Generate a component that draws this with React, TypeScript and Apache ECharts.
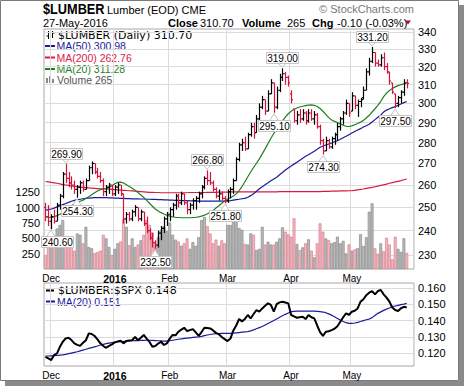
import React, { useEffect, useRef } from 'react';
import * as echarts from 'echarts';

// ---------- DATA ----------
const monthDays: [string, number[]][] = [
  ['2015-11', [27, 30]],
  ['2015-12', [1, 2, 3, 4, 7, 8, 9, 10, 11, 14, 15, 16, 17, 18, 21, 22, 23, 24, 28, 29, 30, 31]],
  ['2016-01', [4, 5, 6, 7, 8, 11, 12, 13, 14, 15, 19, 20, 21, 22, 25, 26, 27, 28, 29]],
  ['2016-02', [1, 2, 3, 4, 5, 8, 9, 10, 11, 12, 16, 17, 18, 19, 22, 23, 24, 25, 26, 29]],
  ['2016-03', [1, 2, 3, 4, 7, 8, 9, 10, 11, 14, 15, 16, 17, 18, 21, 22, 23, 24, 28, 29, 30, 31]],
  ['2016-04', [1, 4, 5, 6, 7, 8, 11, 12, 13, 14, 15, 18, 19, 20, 21, 22, 25, 26, 27, 28, 29]],
  ['2016-05', [2, 3, 4, 5, 6, 9, 10, 11, 12, 13, 16, 17, 18, 19, 20, 23, 24, 25, 26, 27]],
];
const monthLabels: Record<string, string> = {
  '2015-12': 'Dec', '2016-01': '2016', '2016-02': 'Feb', '2016-03': 'Mar', '2016-04': 'Apr', '2016-05': 'May',
};

const opens = [
  250, 246, 244, 246, 244, 251, 255, 265, 263, 261,
  260, 258, 259, 261, 258, 262, 268, 270, 266, 264,
  262, 257, 259, 260, 256, 259, 260, 256, 245, 247,
  245, 248, 250, 245, 248, 243, 240, 237, 235, 234,
  239, 241, 245, 247, 249, 251, 255, 252, 256, 252,
  249, 251, 253, 254, 256, 259, 263, 262, 261, 258,
  255, 256, 254, 253, 257, 258, 262, 272, 279, 280,
  277, 284, 288, 285, 292, 298, 302, 296, 305, 311,
  298, 307, 314, 316, 314, 305, 297, 291, 294, 292,
  295, 291, 295, 292, 294, 288, 281, 276, 281, 278,
  282, 284, 288, 292, 295, 300, 296, 304, 299, 301,
  303, 307, 317, 323, 328, 322, 321, 325, 320, 317,
  311, 305, 300, 303, 306, 311,
];
const highs = [
  252, 251, 247, 249, 252, 256, 266, 269.9, 266, 264,
  262, 260, 262, 262, 263, 269, 271, 270, 268, 266,
  263, 260, 261, 260, 260, 261, 260, 256, 248, 248,
  249, 251, 250, 249, 248, 246, 241, 239, 236, 240,
  242, 246, 248, 250, 252, 256, 256, 257, 256, 253,
  252, 254, 255, 257, 260, 264, 266.8, 266, 262, 259,
  258, 257, 255, 258, 259, 263, 273, 280, 282, 283,
  285, 290, 290, 294, 300, 304, 302, 307, 313, 311,
  309, 316, 319, 317, 315, 307, 297, 296, 297, 297,
  296, 297, 297, 296, 295, 289, 282, 283, 282, 283,
  285, 290, 293, 296, 302, 300, 306, 304, 302, 303,
  309, 319, 325, 331.2, 328, 324, 327, 328, 322, 317,
  311, 305, 304, 307, 313, 313,
];
const lows = [
  244, 242, 240.6, 243, 244, 249, 254, 261, 259, 258,
  256, 254.3, 256, 257, 258, 262, 265, 265, 263, 261,
  255, 255, 256, 255, 255, 256, 255, 243, 243, 244,
  244, 246, 244, 244, 242, 239, 236, 233, 232.5, 233,
  236, 239, 242, 244, 246, 249, 250, 251, 251, 247,
  247, 249, 249, 252, 254, 258, 260, 260, 257, 254,
  253, 253, 251.8, 252, 254, 256, 262, 271, 276, 276,
  277, 283, 282, 285, 291, 297, 294, 296, 305, 295.1,
  297, 306, 312, 310, 309, 300, 290, 289, 290, 291,
  289, 290, 291, 289, 287, 279, 274.3, 276, 277, 277,
  279, 281, 286, 289, 294, 293, 296, 297, 293, 298,
  302, 307, 315, 322, 320, 320, 320, 318, 316, 310,
  305, 297.5, 298, 300, 304, 308,
];
const closes = [
  246, 244, 246, 244, 251, 255, 265, 263, 261, 260,
  258, 259, 261, 258, 262, 268, 270, 266, 264, 262,
  257, 259, 260, 256, 259, 260, 256, 245, 247, 245,
  248, 250, 245, 248, 243, 240, 237, 235, 234, 239,
  241, 245, 247, 249, 251, 255, 252, 256, 252, 249,
  251, 253, 254, 256, 259, 263, 262, 261, 258, 255,
  256, 254, 253, 257, 258, 262, 272, 279, 280, 277,
  284, 288, 285, 292, 298, 302, 296, 305, 311, 298,
  307, 314, 316, 314, 311, 302, 291, 294, 292, 295,
  291, 295, 292, 294, 288, 281, 276, 281, 278, 282,
  284, 288, 292, 295, 300, 295, 304, 299, 301, 302,
  307, 317, 323, 328, 322, 321, 325, 320, 317, 312,
  306, 300, 303, 306, 310.8, 310.7,
];
const volumes = [
  230, 500, 580, 420, 660, 720, 800, 420, 390, 360,
  300, 580, 560, 420, 690, 360, 340, 260, 280, 300,
  560, 500, 360, 230, 330, 420, 450, 820, 690, 390,
  500, 360, 400, 470, 560, 800, 720, 600, 420, 520,
  640, 700, 620, 760, 560, 480, 450, 380, 420, 500,
  330, 440, 380, 520, 800, 850, 700, 580, 420, 480,
  380, 470, 420, 720, 720, 915, 800, 670, 640, 409,
  400, 583, 560, 310, 330, 691, 400, 446, 400, 400,
  446, 500, 681, 610, 567, 528, 828, 409, 310, 354,
  420, 485, 300, 191, 420, 746, 610, 500, 474, 420,
  440, 528, 420, 460, 256, 403, 300, 321, 340, 567,
  376, 518, 936, 1073, 338, 250, 420, 290, 512, 400,
  158, 528, 330, 280, 502, 265,
];
const ma20 = [
  246.0, 245.8, 245.7, 245.9, 246.4, 247.0, 247.7, 248.6, 249.6, 250.7,
  251.6, 252.2, 252.7, 253.2, 253.9, 254.7, 255.6, 256.5, 257.3, 257.9,
  258.2, 258.4, 258.9, 259.7, 260.6, 261.2, 261.3, 260.9, 260.1, 259.3,
  258.5, 257.6, 256.6, 255.5, 254.4, 253.1, 251.8, 250.5, 249.3, 248.4,
  247.7, 247.1, 246.6, 246.2, 245.9, 245.7, 245.6, 245.5, 245.5, 245.5,
  245.5, 245.6, 245.7, 245.9, 246.2, 246.6, 247.2, 247.9, 248.7, 249.7,
  250.7, 251.8, 252.8, 253.6, 254.3, 255.0, 256.0, 257.5, 259.3, 261.5,
  263.8, 266.0, 268.1, 270.1, 272.2, 274.6, 277.0, 279.6, 282.2, 284.6,
  286.8, 289.0, 291.0, 292.9, 294.6, 295.9, 296.9, 297.6, 298.1, 298.5,
  298.8, 299.1, 299.2, 299.0, 298.4, 297.3, 295.9, 294.3, 292.6, 291.4,
  290.7, 290.1, 289.4, 288.7, 288.2, 288.1, 288.4, 289.0, 289.6, 290.3,
  291.2, 292.4, 293.8, 295.5, 297.2, 299.0, 301.1, 303.6, 305.4, 306.9,
  308.0, 308.8, 309.5, 310.0, 310.6, 311.28,
];
const ma50 = [
  248.8, 249.0, 249.3, 249.7, 250.2, 250.7, 251.2, 251.7, 252.2, 252.7,
  253.1, 253.4, 253.6, 253.8, 254.0, 254.1, 254.2, 254.3, 254.3, 254.3,
  254.3, 254.3, 254.2, 254.2, 254.1, 254.1, 254.0, 254.0, 253.9, 253.9,
  253.8, 253.8, 253.8, 253.7, 253.7, 253.6, 253.6, 253.5, 253.5, 253.4,
  253.4, 253.3, 253.3, 253.2, 253.2, 253.1, 253.1, 253.0, 253.0, 253.0,
  252.9, 252.9, 252.9, 252.8, 252.8, 252.8, 252.8, 252.8, 252.8, 252.8,
  252.8, 252.8, 252.8, 252.9, 253.0, 253.2, 253.4, 253.6, 253.8, 254.0,
  254.5, 255.2, 256.0, 257.2, 258.3, 259.2, 260.1, 261.0, 261.9, 262.8,
  263.6, 264.7, 265.8, 266.9, 267.9, 268.8, 269.7, 270.6, 271.5, 272.5,
  273.4, 274.2, 275.0, 275.9, 276.8, 277.8, 278.4, 278.9, 279.4, 279.9,
  280.5, 281.0, 281.7, 282.5, 283.2, 284.0, 284.8, 285.6, 286.3, 287.0,
  287.8, 288.5, 289.2, 290.4, 291.6, 292.8, 294.0, 295.5, 296.5, 297.2,
  297.8, 298.3, 299.0, 299.7, 300.4, 300.98,
];
const ma200 = [
  261.6, 261.4, 261.2, 261.0, 260.8, 260.5, 260.2, 260.0, 259.8, 259.6,
  259.4, 259.2, 259.0, 258.9, 258.8, 258.7, 258.6, 258.5, 258.4, 258.3,
  258.3, 258.2, 258.1, 258.0, 257.9, 257.8, 257.7, 257.6, 257.5, 257.4,
  257.3, 257.2, 257.1, 257.0, 256.9, 256.8, 256.7, 256.7, 256.6, 256.6,
  256.5, 256.5, 256.5, 256.5, 256.5, 256.5, 256.5, 256.5, 256.5, 256.5,
  256.6, 256.6, 256.6, 256.6, 256.6, 256.6, 256.7, 256.7, 256.7, 256.7,
  256.8, 256.8, 256.8, 256.8, 256.9, 256.9, 256.9, 256.9, 256.9, 256.9,
  256.9, 256.9, 256.9, 256.9, 256.9, 256.9, 256.9, 256.9, 256.9, 256.9,
  256.9, 257.0, 257.0, 257.0, 257.0, 257.0, 257.0, 257.0, 257.0, 257.0,
  257.0, 257.0, 257.0, 257.0, 257.0, 257.0, 257.1, 257.1, 257.1, 257.2,
  257.2, 257.2, 257.3, 257.3, 257.3, 257.4, 257.4, 257.6, 257.8, 258.0,
  258.2, 258.5, 258.7, 258.9, 259.2, 259.5, 259.8, 260.1, 260.4, 260.8,
  261.1, 261.4, 261.7, 262.0, 262.4, 262.76,
];
const ratio = [
  0.1179, 0.1169, 0.1159, 0.1190, 0.1200, 0.1240, 0.1271, 0.1291, 0.1295, 0.1281,
  0.1261, 0.1252, 0.1246, 0.1265, 0.1280, 0.1322, 0.1318, 0.1306, 0.1285, 0.1261,
  0.1245, 0.1234, 0.1246, 0.1255, 0.1267, 0.1272, 0.1277, 0.1261, 0.1275, 0.1278,
  0.1280, 0.1301, 0.1280, 0.1295, 0.1312, 0.1290, 0.1270, 0.1240, 0.1245, 0.1260,
  0.1271, 0.1251, 0.1261, 0.1290, 0.1312, 0.1310, 0.1332, 0.1345, 0.1356, 0.1336,
  0.1342, 0.1348, 0.1328, 0.1307, 0.1330, 0.1356, 0.1354, 0.1352, 0.1340, 0.1325,
  0.1316, 0.1300, 0.1287, 0.1275, 0.1290, 0.1340, 0.1370, 0.1410, 0.1395, 0.1410,
  0.1434, 0.1413, 0.1440, 0.1464, 0.1454, 0.1474, 0.1490, 0.1505, 0.1495, 0.1454,
  0.1500, 0.1511, 0.1515, 0.1510, 0.1505, 0.1434, 0.1425, 0.1417, 0.1420, 0.1423,
  0.1409, 0.1434, 0.1420, 0.1413, 0.1370, 0.1330, 0.1307, 0.1332, 0.1335, 0.1342,
  0.1350, 0.1365, 0.1393, 0.1420, 0.1444, 0.1434, 0.1454, 0.1460, 0.1474, 0.1515,
  0.1530, 0.1555, 0.1570, 0.1580, 0.1560, 0.1580, 0.1586, 0.1560, 0.1540, 0.1515,
  0.1480, 0.1464, 0.1458, 0.1475, 0.1484, 0.1480,
];
const ratioMa20 = [
  0.1184, 0.1184, 0.1185, 0.1186, 0.1187, 0.1189, 0.1191, 0.1194, 0.1198, 0.1202,
  0.1206, 0.1210, 0.1215, 0.1220, 0.1225, 0.1230, 0.1235, 0.1240, 0.1245, 0.1251,
  0.1255, 0.1259, 0.1262, 0.1265, 0.1268, 0.1271, 0.1272, 0.1273, 0.1275, 0.1276,
  0.1277, 0.1278, 0.1278, 0.1279, 0.1279, 0.1280, 0.1280, 0.1279, 0.1278, 0.1277,
  0.1276, 0.1275, 0.1275, 0.1277, 0.1280, 0.1283, 0.1286, 0.1288, 0.1291, 0.1293,
  0.1295, 0.1297, 0.1299, 0.1301, 0.1304, 0.1308, 0.1312, 0.1315, 0.1318, 0.1320,
  0.1321, 0.1322, 0.1322, 0.1322, 0.1322, 0.1323, 0.1325, 0.1327, 0.1329, 0.1331,
  0.1333, 0.1337, 0.1343, 0.1350, 0.1357, 0.1364, 0.1373, 0.1382, 0.1391, 0.1400,
  0.1410, 0.1420, 0.1429, 0.1438, 0.1446, 0.1454, 0.1456, 0.1457, 0.1458, 0.1458,
  0.1458, 0.1458, 0.1458, 0.1457, 0.1456, 0.1455, 0.1452, 0.1448, 0.1441, 0.1433,
  0.1423, 0.1413, 0.1403, 0.1394, 0.1387, 0.1383, 0.1383, 0.1385, 0.1389, 0.1394,
  0.1400, 0.1405, 0.1409, 0.1418, 0.1431, 0.1444, 0.1453, 0.1462, 0.1470, 0.1477,
  0.1484, 0.1489, 0.1493, 0.1497, 0.1500, 0.1505,
];
// callouts: [bar index, price, 1 = high / 0 = low]
const callouts: [number, number, number][] = [
  [2, 240.6, 0], [7, 269.9, 1], [11, 254.3, 0], [38, 232.5, 0], [56, 266.8, 1], [62, 251.8, 0],
  [79, 295.1, 0], [82, 319.0, 1], [96, 274.3, 0], [113, 331.2, 1], [121, 297.5, 0],
];
const priceTicks = [230, 240, 250, 260, 270, 280, 290, 300, 310, 320, 330, 340];
const volumeTicks = [250, 500, 750, 1000, 1250];
const ratioTicks = [0.12, 0.13, 0.14, 0.15, 0.16];

// ---------- BUILD ----------
const dates: string[] = [];
monthDays.forEach(([m, ds]) => ds.forEach((d) => dates.push(`${m}-${String(d).padStart(2, '0')}`)));
const cats = [...dates, ' ', '  '];
const labelAt: Record<number, string> = {};
{
  let prev = '';
  dates.forEach((d, i) => {
    const m = d.slice(0, 7);
    if (m !== prev) {
      if (monthLabels[m]) labelAt[i] = monthLabels[m];
      prev = m;
    }
  });
}
const LN = Math.log;
const upFlags = closes.map((c, i) => (i > 0 && c > closes[i - 1] ? 1 : 0));

const UP = '#000000';
const DOWN = '#d8103c';
const NAVY = '#1b1b9a';
const RED = '#d81b45';
const GREEN = '#1f7f1f';
const GRID = '#dcdcdc';
const SANS = '"Liberation Sans", Arial, sans-serif';
const VERD = '"DejaVu Sans", Verdana, sans-serif';

function xAxisCfg(gridIndex: number) {
  return {
    type: 'category', gridIndex, data: cats, boundaryGap: true,
    axisLine: { show: false }, axisTick: { show: false },
    axisLabel: {
      interval: (i: number) => labelAt[i] !== undefined,
      formatter: (_v: string, i: number) => (labelAt[i] === '2016' ? '{b|2016}' : labelAt[i] || ''),
      fontSize: 10, fontFamily: SANS, color: '#000', margin: 4,
      rich: { b: { fontWeight: 'bold', fontSize: 10.5, fontFamily: SANS, color: '#000' } },
    },
    splitLine: { show: true, interval: (i: number) => labelAt[i] !== undefined, lineStyle: { color: GRID, width: 1 } },
  };
}

function buildOption() {
  const ohlcData = dates.map((_, i) => [i, LN(opens[i]), LN(highs[i]), LN(lows[i]), LN(closes[i]), upFlags[i]]);
  const legendY = [35, 46, 57.5, 69, 80];
  const txt = (x: number, y: number, text: string, font: string, fill: string, extra: any = {}) => ({
    type: 'text', x, y, style: { text, font, fill, verticalAlign: 'middle', ...extra },
  });
  const graphics: any[] = [
    // outer frame and shadow
    { type: 'rect', shape: { x: 459, y: 5, width: 5, height: 381 }, style: { fill: '#8a8a8a' }, silent: true },
    { type: 'rect', shape: { x: 5, y: 381, width: 459, height: 5 }, style: { fill: '#8a8a8a' }, silent: true },
    { type: 'rect', shape: { x: 0.5, y: 0.5, width: 458, height: 380 }, style: { fill: 'none', stroke: '#7a7a7a', lineWidth: 1 }, silent: true },
    // header
    { type: 'text', x: 43, y: 9, scaleX: 0.85, style: { text: '$LUMBER', font: `bold 15px ${SANS}`, fill: '#000', verticalAlign: 'middle' } },
    txt(107, 9.5, 'Lumber (EOD) CME', `11px ${SANS}`, '#000'),
    txt(43, 22.5, '27-May-2016', `11px ${SANS}`, '#000'),
    txt(168, 22.5, 'Close', `bold 11px ${SANS}`, '#000'),
    txt(200, 22.5, '310.70', `11px ${SANS}`, '#000'),
    txt(242, 22.5, 'Volume', `bold 11px ${SANS}`, '#000'),
    txt(287, 22.5, '265', `11px ${SANS}`, '#000'),
    txt(312, 22.5, 'Chg', `bold 11px ${SANS}`, '#000'),
    txt(337, 22.5, '-0.10 (-0.03%)', `11px ${SANS}`, '#000'),
    { type: 'polygon', shape: { points: [[405, 20.5], [411, 20.5], [408, 24.5]] }, style: { fill: '#a01030' } },
    txt(414, 9, '© StockCharts.com', `11px ${SANS}`, '#777', { align: 'right' }),
    // price legend
    { type: 'line', shape: { x1: 48.5, y1: 31, x2: 48.5, y2: 39 }, style: { stroke: '#000', lineWidth: 1 } },
    { type: 'line', shape: { x1: 46.5, y1: 36, x2: 48.5, y2: 36 }, style: { stroke: '#000', lineWidth: 1 } },
    { type: 'line', shape: { x1: 52.5, y1: 31, x2: 52.5, y2: 38 }, style: { stroke: '#000', lineWidth: 1 } },
    { type: 'line', shape: { x1: 52.5, y1: 33, x2: 54.5, y2: 33 }, style: { stroke: '#000', lineWidth: 1 } },
    txt(58, legendY[0], '$LUMBER (Daily) 310.70', `11px ${VERD}`, '#000'),
    { type: 'line', shape: { x1: 45, y1: legendY[1], x2: 55, y2: legendY[1] }, style: { stroke: NAVY, lineWidth: 2 } },
    txt(56.5, legendY[1], 'MA(50) 300.98', `10.5px ${SANS}`, NAVY),
    { type: 'line', shape: { x1: 45, y1: legendY[2], x2: 55, y2: legendY[2] }, style: { stroke: RED, lineWidth: 2 } },
    txt(56.5, legendY[2], 'MA(200) 262.76', `10.5px ${SANS}`, RED),
    { type: 'line', shape: { x1: 45, y1: legendY[3], x2: 55, y2: legendY[3] }, style: { stroke: GREEN, lineWidth: 2 } },
    txt(56.5, legendY[3], 'MA(20) 311.28', `10.5px ${SANS}`, GREEN),
    { type: 'rect', shape: { x: 46, y: 78, width: 2, height: 5 }, style: { fill: '#888' } },
    { type: 'rect', shape: { x: 49, y: 76, width: 2, height: 7 }, style: { fill: '#888' } },
    { type: 'rect', shape: { x: 52, y: 79, width: 2, height: 4 }, style: { fill: '#888' } },
    txt(57, legendY[4], 'Volume 265', `10.5px ${SANS}`, '#555'),
    // ratio legend
    { type: 'line', shape: { x1: 46, y1: 290.5, x2: 54, y2: 290.5 }, style: { stroke: '#000', lineWidth: 2 } },
    txt(58, 290.5, '$LUMBER:$SPX 0.148', `11px ${VERD}`, '#000'),
    { type: 'line', shape: { x1: 46, y1: 301.5, x2: 55, y2: 301.5 }, style: { stroke: NAVY, lineWidth: 2 } },
    txt(57, 301.5, 'MA(20) 0.151', `10.5px ${SANS}`, NAVY),
  ];

  return {
    animation: false,
    backgroundColor: '#fff',
    grid: [
      { left: 44, right: 50, top: 29, height: 240, show: true, borderColor: '#a8a8a8', borderWidth: 1, backgroundColor: 'transparent' },
      { left: 44, right: 50, top: 283, height: 83, show: true, borderColor: '#a8a8a8', borderWidth: 1, backgroundColor: 'transparent' },
    ],
    xAxis: [xAxisCfg(0), xAxisCfg(1)],
    yAxis: [
      {
        type: 'value', gridIndex: 0, position: 'right', min: LN(224.4), max: LN(341.8),
        axisLine: { show: false },
        axisTick: { show: false, customValues: priceTicks.map(LN) },
        axisLabel: {
          customValues: priceTicks.map(LN), formatter: (v: number) => String(Math.round(Math.exp(v))),
          fontSize: 11, fontFamily: SANS, color: '#000', margin: 4,
        },
        splitLine: { show: true, lineStyle: { color: GRID, width: 1 } },
      },
      {
        type: 'value', gridIndex: 0, position: 'left', min: 0, max: 3920,
        axisLine: { show: false },
        axisTick: { show: false, customValues: volumeTicks },
        axisLabel: { customValues: volumeTicks, formatter: (v: number) => String(Math.round(v)), fontSize: 11, fontFamily: SANS, color: '#000', margin: 4 },
        splitLine: { show: false },
      },
      {
        type: 'value', gridIndex: 1, position: 'right', min: 0.1123, max: 0.1629,
        axisLine: { show: false },
        axisTick: { show: false, customValues: ratioTicks },
        axisLabel: {
          customValues: ratioTicks, formatter: (v: number) => v.toFixed(3),
          fontSize: 11, fontFamily: SANS, color: '#000', margin: 4,
        },
        splitLine: { show: true, lineStyle: { color: GRID, width: 1 } },
      },
    ],
    series: [
      {
        type: 'bar', xAxisIndex: 0, yAxisIndex: 1, barCategoryGap: '0%', z: 1,
        data: volumes.map((v, i) => ({
          value: v,
          itemStyle: upFlags[i]
            ? { color: '#b9b9b9', borderColor: '#8c8c8c', borderWidth: 0.7 }
            : { color: '#f1b7bf', borderColor: '#d98290', borderWidth: 0.7 },
        })),
        silent: true,
      },
      { type: 'line', xAxisIndex: 0, yAxisIndex: 0, z: 3, data: ma200.map(LN), showSymbol: false, lineStyle: { color: RED, width: 1.2 }, silent: true },
      { type: 'line', xAxisIndex: 0, yAxisIndex: 0, z: 3, data: ma50.map(LN), showSymbol: false, lineStyle: { color: NAVY, width: 1.2 }, silent: true },
      { type: 'line', xAxisIndex: 0, yAxisIndex: 0, z: 3, data: ma20.map(LN), showSymbol: false, lineStyle: { color: GREEN, width: 1.2 }, silent: true },
      {
        type: 'custom', xAxisIndex: 0, yAxisIndex: 0, data: ohlcData, z: 4,
        encode: { x: 0, y: [1, 2, 3, 4] }, silent: true,
        renderItem: (_p: any, api: any) => {
          const i = api.value(0);
          const o = api.coord([i, api.value(1)]);
          const h = api.coord([i, api.value(2)]);
          const l = api.coord([i, api.value(3)]);
          const c = api.coord([i, api.value(4)]);
          const color = api.value(5) > 0 ? UP : DOWN;
          const x = Math.round(h[0]) + 0.5;
          const st = { stroke: color, lineWidth: 1.2 };
          return {
            type: 'group',
            children: [
              { type: 'line', shape: { x1: x, y1: h[1], x2: x, y2: l[1] }, style: st },
              { type: 'line', shape: { x1: x - 1.5, y1: o[1], x2: x, y2: o[1] }, style: st },
              { type: 'line', shape: { x1: x, y1: c[1], x2: x + 1.5, y2: c[1] }, style: st },
            ],
          };
        },
      },
      {
        type: 'custom', xAxisIndex: 0, yAxisIndex: 0, silent: true, clip: false, z: 10,
        data: callouts.map(([i, p, hi]) => [i, LN(p), hi]),
        encode: { x: 0, y: 1 },
        renderItem: (_p: any, api: any) => {
          const pt = api.coord([api.value(0), api.value(1)]);
          const hi = api.value(2) > 0;
          const text = Math.exp(api.value(1)).toFixed(2);
          const w = 32, hgt = 11;
          const x = Math.round(pt[0]);
          const boxX = Math.max(x - w / 2, 41);
          const boxY = Math.round(hi ? pt[1] - 5 - hgt : pt[1] + 7);
          const edgeY = hi ? boxY + hgt : boxY;
          const tipY = hi ? pt[1] - 1 : pt[1] + 1;
          return {
            type: 'group',
            children: [
              { type: 'polyline', z2: 1, shape: { points: [[x - 4, edgeY], [x, tipY], [x + 4, edgeY]] }, style: { fill: '#fff', stroke: '#c4c4c4', lineWidth: 1 } },
              { type: 'rect', z2: 2, shape: { x: boxX + 0.5, y: boxY + 0.5, width: w, height: hgt }, style: { fill: '#fff', stroke: '#c4c4c4', lineWidth: 1 } },
              { type: 'text', z2: 3, x: boxX + w / 2 + 0.5, y: boxY + hgt / 2 + 1, style: { text, fill: '#000', font: `10px ${SANS}`, align: 'center', verticalAlign: 'middle' } },
            ],
          };
        },
      },
      { type: 'line', xAxisIndex: 1, yAxisIndex: 2, data: ratioMa20, showSymbol: false, lineStyle: { color: NAVY, width: 1.2 }, silent: true },
      { type: 'line', xAxisIndex: 1, yAxisIndex: 2, data: ratio, showSymbol: false, lineStyle: { color: '#000', width: 2 }, silent: true },
    ],
    graphic: graphics,
  };
}

export default function App() {
  const ref = useRef<HTMLDivElement>(null);
  useEffect(() => {
    const chart = echarts.init(ref.current!, undefined, { renderer: 'svg' });
    chart.setOption(buildOption() as any);
    return () => chart.dispose();
  }, []);
  return <div ref={ref} style={{ position: 'fixed', left: 0, top: 0, width: 464, height: 387, background: '#fff' }} />;
}
